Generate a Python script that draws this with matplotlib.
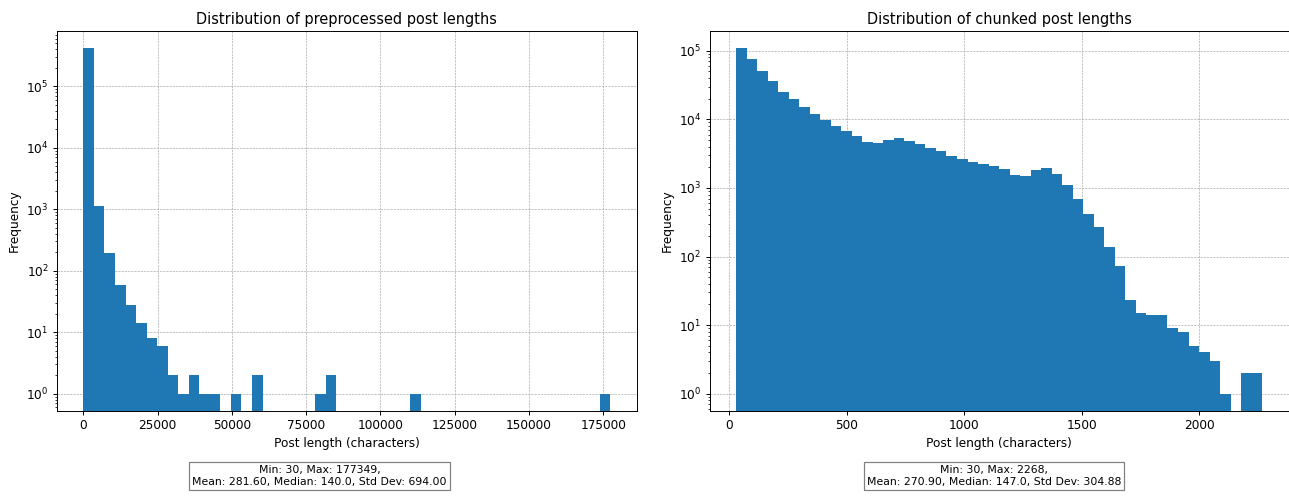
import numpy as np
import matplotlib
matplotlib.use("Agg")
import matplotlib.pyplot as plt

# histogram counts, 50 bins between min and max
pre_min, pre_max = 30, 177349
pre_counts = [418000, 1120, 194, 58, 28, 14, 8, 6, 2, 1,
              2, 1, 1, 0, 1, 0, 2, 0, 0, 0,
              0, 0, 1, 2, 0, 0, 0, 0, 0, 0,
              0, 1, 0, 0, 0, 0, 0, 0, 0, 0,
              0, 0, 0, 0, 0, 0, 0, 0, 0, 1]
pre_stats = "Min: 30, Max: 177349,\nMean: 281.60, Median: 140.0, Std Dev: 694.00"

chunk_min, chunk_max = 30, 2268
chunk_counts = [108700, 75200, 50400, 36000, 24900, 19700, 15000, 11900, 9800, 8000,
                6700, 5700, 4660, 4470, 5000, 5380, 4800, 4360, 3800, 3450,
                2900, 2630, 2400, 2230, 2090, 1880, 1540, 1490, 1820, 1950,
                1590, 1100, 690, 417, 270, 138, 73, 23, 15, 14,
                14, 9, 8, 5, 4, 3, 1, 0, 2, 2]
chunk_stats = "Min: 30, Max: 2268,\nMean: 270.90, Median: 147.0, Std Dev: 304.88"

titles = ["Distribution of preprocessed post lengths", "Distribution of chunked post lengths"]

DPI = 87
W, H = 1289, 496
fig = plt.figure(figsize=(W / DPI, H / DPI), dpi=DPI)

def px_axes(x0, x1, y0, y1):
    return fig.add_axes([x0 / W, 1 - y1 / H, (x1 - x0) / W, (y1 - y0) / H])

ax1 = px_axes(57, 636.7, 31, 411)
ax2 = px_axes(709.7, 1288.5, 31, 411)

panels = [(ax1, pre_min, pre_max, pre_counts, titles[0]),
          (ax2, chunk_min, chunk_max, chunk_counts, titles[1])]
for ax, lo, hi, counts, title in panels:
    edges = np.linspace(lo, hi, len(counts) + 1)
    ax.hist(edges[:-1], bins=edges, weights=counts, log=True, color="#1f77b4")
    ax.set_axisbelow(True)
    ax.grid(True, which="major", linestyle="--", linewidth=0.5, color="#a0a0a0")
    ax.set_title(title)
    ax.set_xlabel("Post length (characters)")
    ax.set_ylabel("Frequency")

box = dict(facecolor="white", edgecolor="gray", boxstyle="square,pad=0.3")
fig.text(319.5 / W, 1 - 476 / H, pre_stats, ha="center", va="center",
         fontsize=9, multialignment="center", bbox=box)
fig.text(994 / W, 1 - 476 / H, chunk_stats, ha="center", va="center",
         fontsize=9, multialignment="center", bbox=box)

fig.savefig("out.png", dpi=DPI)
